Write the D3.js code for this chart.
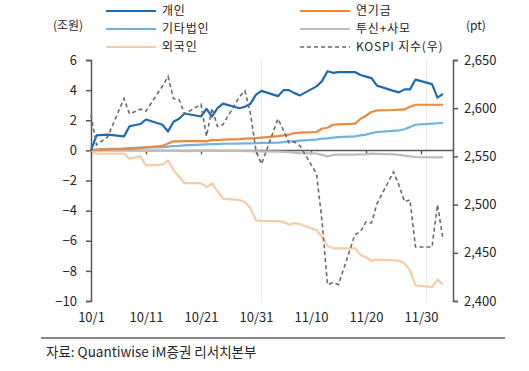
<!DOCTYPE html>
<html>
<head>
<meta charset="utf-8">
<script src="https://cdn.jsdelivr.net/npm/d3@7"></script>
<style>
  body { margin: 0; background: #fff; }
  svg text { font-family: "Noto Sans CJK KR", "Noto Sans", sans-serif; fill: #262626; }
</style>
</head>
<body>
<svg id="chart" width="529" height="371"></svg>
<script>
// trading days, Oct 1 2024 is the base point
const dates = ['10/1','10/2','10/4','10/7','10/8','10/10','10/11','10/14','10/15','10/16','10/17','10/18',
  '10/21','10/22','10/23','10/24','10/25','10/28','10/29','10/30','10/31','11/1',
  '11/4','11/5','11/6','11/7','11/8','11/11','11/12','11/13','11/14','11/15',
  '11/18','11/19','11/20','11/21','11/22','11/25','11/26','11/27','11/28','11/29',
  '12/2','12/3','12/4'];

// cumulative net buying (조원)
const individual = [0,1.0,1.05,0.93,1.6,1.75,2.05,1.7,1.25,1.9,2.1,2.45,
  2.25,2.75,2.25,2.8,3.1,2.8,2.9,3.1,3.7,3.95,
  3.6,4.0,4.0,3.8,3.65,4.25,4.6,5.25,5.15,5.2,
  5.2,5.0,4.9,4.8,4.3,3.95,3.85,4.05,4.05,4.7,
  4.4,3.5,3.75];
const pension = [0,0.05,0.05,0.1,0.1,0.15,0.2,0.3,0.45,0.6,0.6,0.62,
  0.62,0.6,0.7,0.68,0.72,0.75,0.78,0.8,0.82,0.85,
  0.95,1.0,1.05,1.15,1.18,1.22,1.45,1.5,1.7,1.72,
  1.77,2.1,2.3,2.55,2.65,2.68,2.7,2.72,2.9,3.03,
  3.03,3.03,3.03];
const otherCorp = [0,0.05,0.1,0.12,0.15,0.18,0.2,0.22,0.25,0.28,0.3,0.33,
  0.38,0.4,0.42,0.42,0.44,0.45,0.46,0.47,0.48,0.5,
  0.52,0.55,0.6,0.62,0.65,0.72,0.78,0.8,0.85,0.88,
  0.93,1.0,1.05,1.15,1.22,1.3,1.33,1.4,1.55,1.7,
  1.78,1.8,1.82];
const trustPef = [0,0.02,0.02,0,0,-0.02,-0.03,-0.02,-0.03,-0.02,-0.03,-0.05,
  -0.03,-0.02,-0.02,-0.03,-0.03,-0.04,-0.05,-0.05,-0.06,-0.07,
  -0.08,-0.1,-0.12,-0.15,-0.18,-0.22,-0.3,-0.4,-0.3,-0.28,
  -0.28,-0.27,-0.26,-0.22,-0.23,-0.26,-0.3,-0.35,-0.4,-0.44,
  -0.47,-0.46,-0.45];
const foreign = [0,-0.22,-0.22,-0.22,-0.55,-0.4,-1.0,-0.95,-0.66,-1.3,-1.75,-2.17,
  -2.17,-2.44,-2.2,-2.7,-3.2,-3.3,-3.45,-3.85,-4.65,-4.68,
  -4.7,-4.75,-4.93,-4.83,-4.9,-5.3,-5.75,-6.35,-6.5,-6.5,
  -6.5,-6.95,-7.1,-7.33,-7.25,-7.3,-7.33,-7.5,-7.95,-8.96,
  -9.07,-8.58,-8.9];
// KOSPI index (right axis, pt)
const kospi = [2593,2562,2570,2610,2594,2599,2597,2623,2633,2610,2609,2594,
  2604,2571,2600,2581,2583,2612,2618,2594,2556,2542,
  2589,2577,2564,2565,2561,2532,2483,2417,2419,2417,
  2469,2472,2482,2481,2501,2534,2520,2503,2505,2456,
  2456,2500,2464];

const xTickLabels = ['10/1','10/11','10/21','10/31','11/10','11/20','11/30'];
const leftTicks = [6,4,2,0,-2,-4,-6,-8,-10];
const rightTicks = [2650,2600,2550,2500,2450,2400];
const monthLines = ['11/1','12/1'];

const series = [
  { name: '투신+사모', values: trustPef, color: '#bdbdbd' },
  { name: '외국인', values: foreign, color: '#f8cba7' },
  { name: '기타법인', values: otherCorp, color: '#6fb2e4' },
  { name: '연기금', values: pension, color: '#eb8a3e' },
  { name: '개인', values: individual, color: '#1f6aad' }
];

const legendItems = [
  { name: '개인', color: '#1f6aad' }, { name: '연기금', color: '#eb8a3e' },
  { name: '기타법인', color: '#6fb2e4' }, { name: '투신+사모', color: '#bdbdbd' },
  { name: '외국인', color: '#f8cba7' }, { name: 'KOSPI 지수(우)', color: '#666', dash: true }
];

const toDate = s => { const [m, d] = s.split('/').map(Number); return new Date(2024, m - 1, d); };

const svg = d3.select('#chart');
const plotL = 91, plotR = 453, plotT = 60, plotB = 301;

const x = d3.scaleTime().domain([toDate('10/1'), toDate('12/6')]).range([plotL, plotL + 66 * 5.5]);
const y = d3.scaleLinear().domain([-10, 6]).range([plotB, plotT]);
const y2 = d3.scaleLinear().domain([2400, 2650]).range([plotB, plotT]);

// month separators
svg.selectAll('.mline').data(monthLines).enter().append('line')
  .attr('x1', d => x(toDate(d))).attr('x2', d => x(toDate(d)))
  .attr('y1', plotT).attr('y2', plotB)
  .attr('stroke', '#e8e8e8').attr('stroke-width', 1);

// left axis
const yAxis = svg.append('g').attr('transform', `translate(${plotL},0)`)
  .call(d3.axisLeft(y).tickValues(leftTicks).tickSize(5).tickPadding(9));
// right axis
const y2Axis = svg.append('g').attr('transform', `translate(${plotR},0)`)
  .call(d3.axisRight(y2).tickValues(rightTicks).tickFormat(d3.format(',')).tickSize(5).tickPadding(6));
[yAxis, y2Axis].forEach(g => {
  g.select('.domain').attr('stroke', '#595959').attr('stroke-width', 1.5);
  g.selectAll('.tick line').attr('stroke', '#595959').attr('stroke-width', 1.5);
  g.selectAll('.tick text').style('font-size', '13px').attr('fill', '#262626');
});

// x axis along zero line, labels at the bottom
const xAxis = svg.append('g').attr('transform', `translate(0,${y(0)})`)
  .call(d3.axisBottom(x).tickValues(xTickLabels.map(toDate)).tickSize(4)
    .tickFormat(d3.timeFormat('%-m/%-d')));
xAxis.select('.domain').attr('d', `M${plotL},0H${plotR}`).attr('stroke', '#595959').attr('stroke-width', 1.5);
xAxis.selectAll('.tick line').attr('stroke', '#595959').attr('stroke-width', 1.5);
xAxis.selectAll('.tick text').attr('y', plotB - y(0) + 12).style('font-size', '13px').attr('fill', '#262626');

// investor lines
const line = d3.line().x((d, i) => x(toDate(dates[i]))).y(d => y(d));
series.forEach(s => {
  svg.append('path').datum(s.values)
    .attr('fill', 'none').attr('stroke', s.color).attr('stroke-width', 2.2)
    .attr('stroke-linejoin', 'round').attr('d', line);
});

// KOSPI dashed
const kline = d3.line().x((d, i) => x(toDate(dates[i]))).y(d => y2(d));
svg.append('path').datum(kospi)
  .attr('fill', 'none').attr('stroke', '#6b6b6b').attr('stroke-width', 1.6)
  .attr('stroke-dasharray', '4,3').attr('d', kline);

// unit labels
svg.append('text').attr('x', 68).attr('y', 30).attr('text-anchor', 'middle').style('font-size', '12px').text('(조원)');
svg.append('text').attr('x', 476).attr('y', 30).attr('text-anchor', 'middle').style('font-size', '12px').text('(pt)');

// legend
const lg = svg.selectAll('.lg').data(legendItems).enter().append('g')
  .attr('transform', (d, i) => `translate(${i % 2 ? 300 : 106},${11 + Math.floor(i / 2) * 18})`);
lg.append('line').attr('x1', 0).attr('x2', 50)
  .attr('stroke', d => d.color).attr('stroke-width', d => d.dash ? 1.6 : 2.2)
  .attr('stroke-dasharray', d => d.dash ? '4,3' : null);
lg.append('text').attr('x', 56).attr('dy', '0.35em')
  .style('font-size', '12px').style('letter-spacing', '0.8px').text(d => d.name);

// source
svg.append('line').attr('x1', 41).attr('x2', 505).attr('y1', 338).attr('y2', 338).attr('stroke', '#111').attr('stroke-width', 1);
svg.append('text').attr('x', 46).attr('y', 357).style('font-size', '13.5px').text('자료: Quantiwise iM증권 리서치본부');
</script>
</body>
</html>
